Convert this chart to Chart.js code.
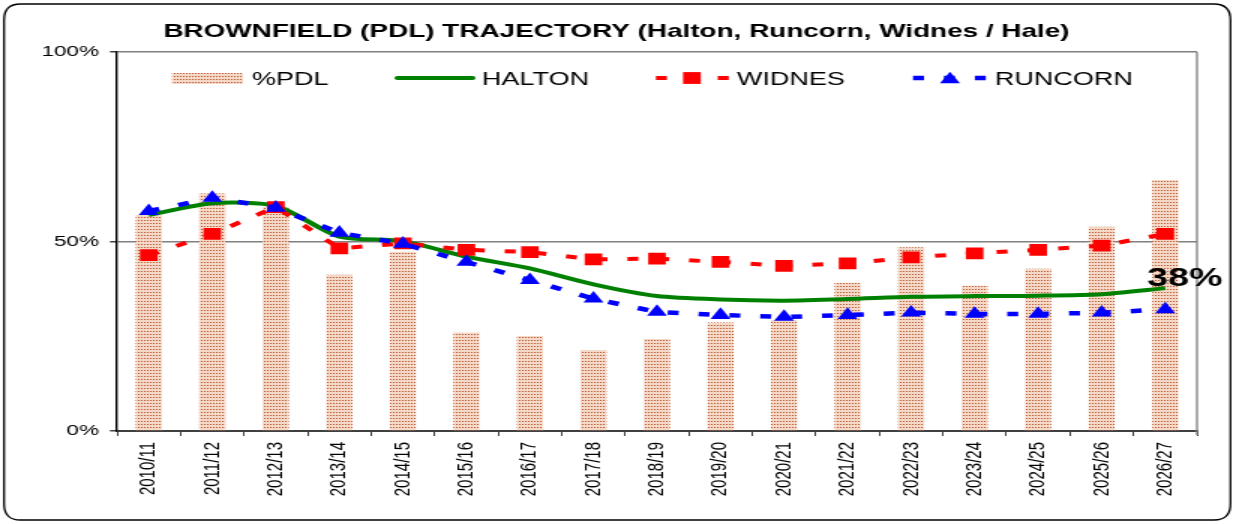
<!DOCTYPE html>
<html>
<head>
<meta charset="utf-8">
<script src="https://cdn.jsdelivr.net/npm/chart.js@4.4.1/dist/chart.umd.min.js"></script>
<style>
  html, body { margin: 0; padding: 0; background: #fff; overflow: hidden; }
  #wrap { width: 822px; height: 524px; transform: scaleX(1.5); transform-origin: 0 0; }
  canvas { display: block; }
</style>
</head>
<body>
<div id="wrap"><canvas id="c" width="822" height="524"></canvas></div>
<script>
// ---- data ----
const categories = ['2010/11','2011/12','2012/13','2013/14','2014/15','2015/16','2016/17','2017/18','2018/19',
                    '2019/20','2020/21','2021/22','2022/23','2023/24','2024/25','2025/26','2026/27'];
const pdlValues     = [57.0, 62.7, 59.2, 41.2, 47.3, 26.0, 25.1, 21.4, 24.3, 28.6, 29.3, 39.1, 48.5, 38.3, 42.8, 53.9, 66.2];
const haltonValues  = [57.0, 60.1, 59.4, 51.3, 50.1, 46.0, 42.9, 38.7, 35.6, 34.7, 34.4, 34.8, 35.4, 35.6, 35.7, 36.1, 37.7];
const widnesValues  = [46.4, 52.0, 59.1, 48.2, 49.5, 47.8, 47.2, 45.3, 45.5, 44.6, 43.6, 44.2, 45.8, 46.9, 47.8, 48.9, 52.0];
const runcornValues = [58.0, 61.5, 58.9, 52.3, 49.4, 44.6, 39.8, 34.9, 31.4, 30.6, 30.1, 30.6, 31.2, 30.9, 30.9, 31.2, 32.1];
const yTickValues = [0, 50, 100];
const seriesNames = ['%PDL', 'HALTON', 'WIDNES', 'RUNCORN'];
const titleText = 'BROWNFIELD (PDL) TRAJECTORY (Halton, Runcorn, Widnes / Hale)';
const endLabel = '38%';

const FONT = "Arial, 'Liberation Sans', sans-serif";
Chart.defaults.font.family = FONT;

const canvas = document.getElementById('c');
const ctx = canvas.getContext('2d');

// dotted fill like the reference bars
function makePattern() {
  const t = document.createElement('canvas');
  t.width = 2; t.height = 3;
  const g = t.getContext('2d');
  g.fillStyle = '#f4d8c8'; g.fillRect(0, 0, 2, 3);
  g.fillStyle = '#b9522a'; g.fillRect(0, 1, 1, 1);
  return ctx.createPattern(t, 'repeat');
}
const pattern = makePattern();

const RED = '#ff0000', BLUE = '#0000ff', GREEN = '#008000';
const DASH = [7.3, 13.3];

const framePlugin = {
  id: 'frame',
  beforeDraw(chart) {
    const c = chart.ctx;
    c.save();
    c.fillStyle = '#fff';
    c.fillRect(0, 0, chart.width, chart.height);
    const x0 = 2.7, y0 = 4, x1 = 820.3, y1 = 520, rx = 11, ry = 16;
    c.beginPath();
    c.moveTo(x0 + rx, y0);
    c.lineTo(x1 - rx, y0);
    c.quadraticCurveTo(x1, y0, x1, y0 + ry);
    c.lineTo(x1, y1 - ry);
    c.quadraticCurveTo(x1, y1, x1 - rx, y1);
    c.lineTo(x0 + rx, y1);
    c.quadraticCurveTo(x0, y1, x0, y1 - ry);
    c.lineTo(x0, y0 + ry);
    c.quadraticCurveTo(x0, y0, x0 + rx, y0);
    c.closePath();
    c.strokeStyle = '#000';
    c.lineWidth = 1.3;
    c.stroke();
    c.restore();
  },
  beforeDatasetsDraw(chart) {
    const a = chart.chartArea, c = chart.ctx;
    c.save();
    c.strokeStyle = '#808080';
    c.lineWidth = 1.3;
    c.beginPath();
    c.moveTo(a.right, a.top);
    c.lineTo(a.right, a.bottom + 4);
    c.stroke();
    c.restore();
  }
};

const legendPlugin = {
  id: 'refLegend',
  afterDraw(chart) {
    const c = chart.ctx;
    const y = 78, base = 85;
    c.save();
    c.font = '18px ' + FONT;
    c.textAlign = 'left';
    c.textBaseline = 'alphabetic';
    c.fillStyle = pattern;
    c.fillRect(114.7, 73, 47.3, 11);
    c.fillStyle = '#000';
    c.fillText(seriesNames[0], 168, base);
    c.strokeStyle = GREEN; c.lineWidth = 4; c.lineCap = 'round';
    c.beginPath(); c.moveTo(265, y); c.lineTo(315, y); c.stroke();
    c.lineCap = 'butt';
    c.fillText(seriesNames[1], 321.3, base);
    c.strokeStyle = RED; c.lineWidth = 4; c.setLineDash(DASH);
    c.beginPath(); c.moveTo(437.3, y); c.lineTo(486.7, y); c.stroke();
    c.setLineDash([]);
    c.fillStyle = RED; c.fillRect(461.3 - 5.9, y - 5.9, 11.8, 11.8);
    c.fillStyle = '#000';
    c.fillText(seriesNames[2], 491.3, base);
    c.strokeStyle = BLUE; c.lineWidth = 4.5; c.setLineDash(DASH);
    c.beginPath(); c.moveTo(608.7, y); c.lineTo(658.7, y); c.stroke();
    c.setLineDash([]);
    const r = 7.7, tx = 633.3, ty = y + 1.5;
    c.fillStyle = BLUE;
    c.beginPath();
    c.moveTo(tx, ty - r);
    c.lineTo(tx + r * Math.sqrt(3) / 2, ty + r / 2);
    c.lineTo(tx - r * Math.sqrt(3) / 2, ty + r / 2);
    c.closePath(); c.fill();
    c.fillStyle = '#000';
    c.fillText(seriesNames[3], 663.3, base);
    c.restore();
  }
};

const endLabelPlugin = {
  id: 'endLabel',
  afterDatasetsDraw(chart) {
    const meta = chart.getDatasetMeta(1);
    const pt = meta.data[meta.data.length - 1];
    const c = chart.ctx;
    c.save();
    c.font = 'bold 25px ' + FONT;
    c.fillStyle = '#000';
    c.textAlign = 'left';
    c.textBaseline = 'alphabetic';
    c.fillText(endLabel, pt.x - 12, pt.y - 2);
    c.restore();
  }
};

new Chart(ctx, {
  type: 'bar',
  data: {
    labels: categories,
    datasets: [
      { type: 'bar', label: seriesNames[0], data: pdlValues, backgroundColor: pattern,
        borderWidth: 0, barPercentage: 0.41, categoryPercentage: 1.0, order: 4 },
      { type: 'line', label: seriesNames[1], data: haltonValues, borderColor: GREEN, borderWidth: 4,
        pointRadius: 0, tension: 0.25, fill: false, order: 3 },
      { type: 'line', label: seriesNames[2], data: widnesValues, borderColor: RED, borderWidth: 4,
        borderDash: DASH, pointStyle: 'rect', pointRadius: 8.3, pointBackgroundColor: RED,
        pointBorderColor: RED, pointBorderWidth: 0, tension: 0, fill: false, order: 2 },
      { type: 'line', label: seriesNames[3], data: runcornValues, borderColor: BLUE, borderWidth: 4.5,
        borderDash: DASH, pointStyle: 'triangle', pointRadius: 7.7, pointBackgroundColor: BLUE,
        pointBorderColor: BLUE, pointBorderWidth: 0, tension: 0, fill: false, order: 1 }
    ]
  },
  options: {
    responsive: false,
    animation: false,
    events: [],
    layout: { padding: 0 },
    plugins: {
      legend: { display: false },
      tooltip: { enabled: false },
      title: {
        display: true, text: titleText, color: '#000',
        font: { family: FONT, size: 18.6, weight: 'bold' },
        padding: { top: 21, bottom: 8.7 }
      }
    },
    scales: {
      x: {
        offset: true,
        grid: { drawOnChartArea: false, drawTicks: true, tickLength: 5, color: '#404040', lineWidth: 1, offset: true },
        border: { color: '#404040', width: 2 },
        ticks: { autoSkip: false, maxRotation: 90, minRotation: 90, color: '#000',
                 font: { family: FONT, size: 15 }, padding: 6 },
        afterFit(s) { s.height = 93; }
      },
      y: {
        min: 0, max: 100,
        afterBuildTicks(s) { s.ticks = yTickValues.map(v => ({ value: v })); },
        grid: {
          color: (c) => (c.tick && c.tick.value === 0) ? 'rgba(0,0,0,0)' : '#808080',
          lineWidth: 1.5, tickLength: 4.7, tickColor: '#404040'
        },
        border: { color: '#000', width: 1.4 },
        ticks: { callback: (v) => v + '%', color: '#000', font: { family: FONT, size: 15 }, padding: 7.3 },
        afterFit(s) { s.width = 78; }
      },
      yRight: {
        position: 'right', display: true, min: 0, max: 100,
        grid: { display: false, drawTicks: false },
        border: { display: false },
        ticks: { display: false },
        afterFit(s) { s.width = 24; }
      }
    }
  },
  plugins: [framePlugin, legendPlugin, endLabelPlugin]
});
</script>
</body>
</html>
